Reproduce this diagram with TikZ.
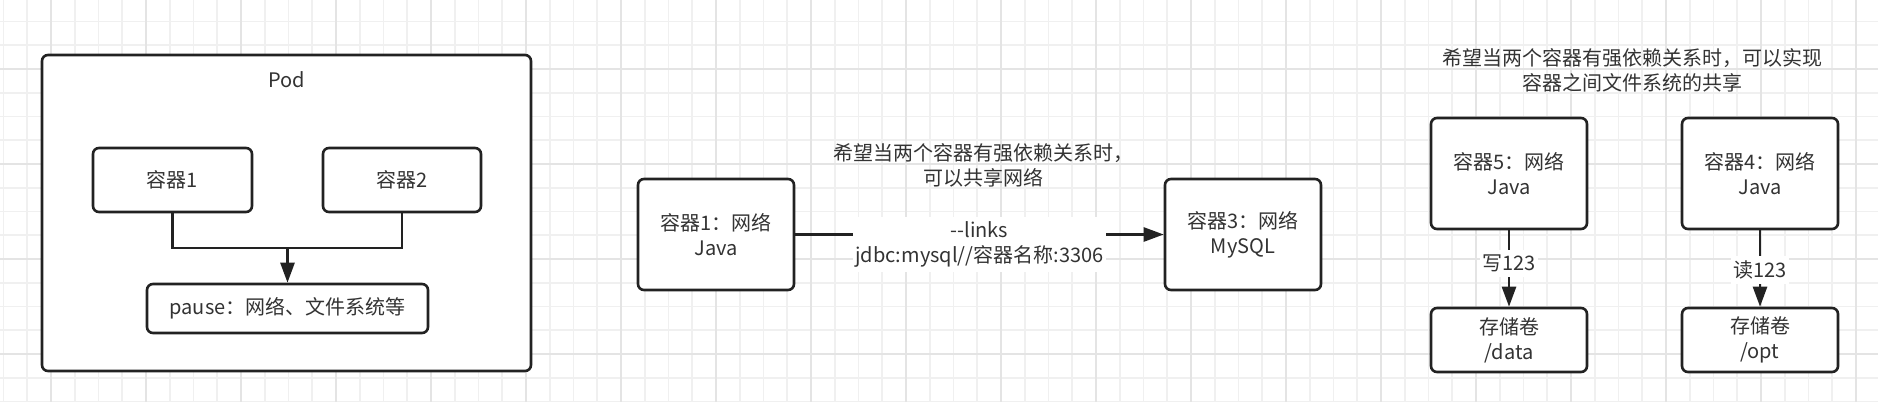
\documentclass[tikz,border=0pt]{standalone}
\usepackage{fontspec}
\newfontfamily\cjk{Noto Sans CJK SC}
\usepackage{tikz}
\usetikzlibrary{arrows.meta,positioning}
\definecolor{gridminor}{HTML}{F0F0F0}
\definecolor{gridmajor}{HTML}{E4E4E4}
\definecolor{ink}{HTML}{222222}
\definecolor{txt}{HTML}{333333}
\tikzset{
  box/.style={draw=ink,line width=1.3pt,rounded corners=3pt,fill=white,
    text=txt,align=center,inner sep=0pt},
  note/.style={text=txt,align=center,inner sep=0pt},
  edgelabel/.style={note,fill=white,inner xsep=1pt,inner ysep=2.5pt},
  link/.style={draw=ink,line width=1.3pt},
  flow/.style={link,-{Triangle[length=10pt,width=7pt]}},
  every node/.style={font=\cjk\fontsize{10}{12.5}\selectfont}
}

\begin{document}
\begin{tikzpicture}[x=0.5pt,y=-0.5pt]
  % canvas and grid
  \fill[white] (0,0) rectangle (1878,402);
  \useasboundingbox (0,0) rectangle (1878,402);
  \foreach \gx in {3.5,27.25,...,1878}{
    \draw[gridminor,line width=0.8pt] (\gx,0) -- (\gx,402);
  }
  \foreach \gy in {21.5,45.25,...,402}{
    \draw[gridminor,line width=0.8pt] (0,\gy) -- (1878,\gy);
  }
  \foreach \gx in {51,146,...,1878}{
    \draw[gridmajor,line width=0.8pt] (\gx,0) -- (\gx,402);
  }
  \foreach \gy in {69,164,...,402}{
    \draw[gridmajor,line width=0.8pt] (0,\gy) -- (1878,\gy);
  }

  % pod
  \node[box,minimum width=244.5pt,minimum height=158pt] (pod) at (286.5,213) {};
  \node[note] (podlabel) at (287,80) {Pod};
  \node[box,minimum width=79.5pt,minimum height=32pt] (c1) at (172.5,180) {容器1};
  \node[box,minimum width=79pt,minimum height=32pt] (c2) at (402,180) {容器2};
  \node[box,minimum width=140.5pt,minimum height=24.5pt] (pause) at (287.5,308.5)
    {pause：网络、文件系统等};
  \coordinate (joint) at (287.5,248);
  \draw[link] (c1.south) |- (joint) -| (c2.south);
  \draw[flow] (joint) -- (pause.north);

  % shared network
  \node[note] (sharenet) at (983,165) {希望当两个容器有强依赖关系时，\\可以共享网络};
  \node[box,minimum width=78pt,minimum height=55.5pt] (m1) at (716,234.5)
    {容器1：网络\\Java};
  \node[box,minimum width=78pt,minimum height=55.5pt] (m3) at (1243,234.5)
    {容器3：网络\\MySQL};
  \draw[flow] (m1) -- (m3)
    node[edgelabel,midway,yshift=-5pt] (linklabel) {-{}-links\\jdbc:mysql//容器名称:3306};

  % shared volume
  \node[note] (sharefs) at (1632,70)
    {希望当两个容器有强依赖关系时，可以实现\\容器之间文件系统的共享};
  \node[box,minimum width=78pt,minimum height=55.5pt] (v5) at (1509,173.5)
    {容器5：网络\\Java};
  \node[box,minimum width=78pt,minimum height=55.5pt] (v4) at (1760,173.5)
    {容器4：网络\\Java};
  \node[box,minimum width=78pt,minimum height=32pt] (s5) at (1509,340)
    {存储卷\\/data};
  \node[box,minimum width=78pt,minimum height=32pt] (s4) at (1760,340)
    {存储卷\\/opt};
  \draw[flow] (v5) -- (s5) node[edgelabel,pos=0.43] (writelabel) {写123};
  \draw[flow] (v4) -- (s4) node[edgelabel,pos=0.52] (readlabel) {读123};
\end{tikzpicture}
\end{document}
